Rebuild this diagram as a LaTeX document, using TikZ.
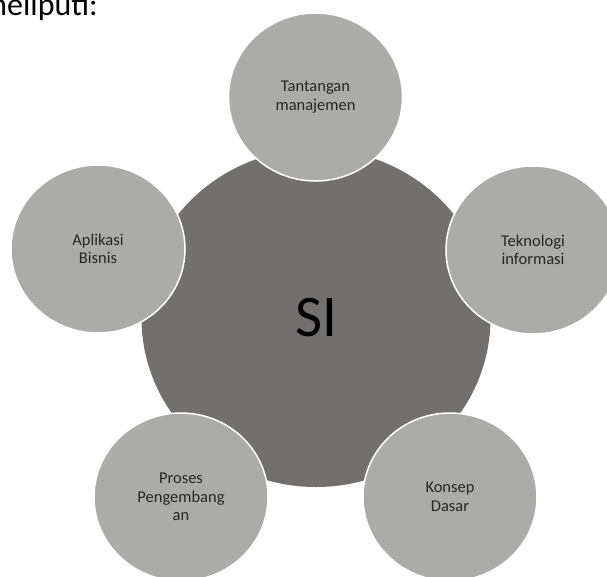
\documentclass[tikz,border=0pt]{standalone}
\usepackage{fontspec}
\setmainfont{Carlito}
\usepackage{tikz}
\usetikzlibrary{shapes.geometric}
\definecolor{sicore}{RGB}{115,111,110}
\definecolor{sitopic}{RGB}{171,171,170}
\tikzset{
    core/.style={ellipse,fill=sicore,minimum width=349pt,minimum height=338pt,inner sep=0pt,
        font=\fontsize{59}{70}\selectfont},
    topic/.style={ellipse,fill=sitopic,draw=white,line width=1.5pt,minimum width=174pt,
        minimum height=168pt,inner sep=0pt,align=center,text=black!85,
        font=\fontsize{16.5}{18.5}\selectfont}
}
\begin{document}
\begin{tikzpicture}[x=1pt,y=-1pt]
    \useasboundingbox (0,0) rectangle (607,576);
    % heading, cut by the page edge
    \node[anchor=base east,inner sep=0pt,font=\fontsize{32}{38}\selectfont] (meliputi) at (98,15) {meliputi:};

    \node[core] (si) at (316,318) {SI};

    % the five topics round the core
    \node[topic] (tantangan) at (315.5,97) {Tantangan\\manajemen};
    \node[topic] (teknologi) at (533,250) {Teknologi\\informasi};
    \node[topic] (konsep) at (450,497) {Konsep\\Dasar};
    \node[topic] (proses) at (181,497) {Proses\\Pengembang\\an};
    \node[topic] (aplikasi) at (98,249) {Aplikasi\\Bisnis};
\end{tikzpicture}
\end{document}
